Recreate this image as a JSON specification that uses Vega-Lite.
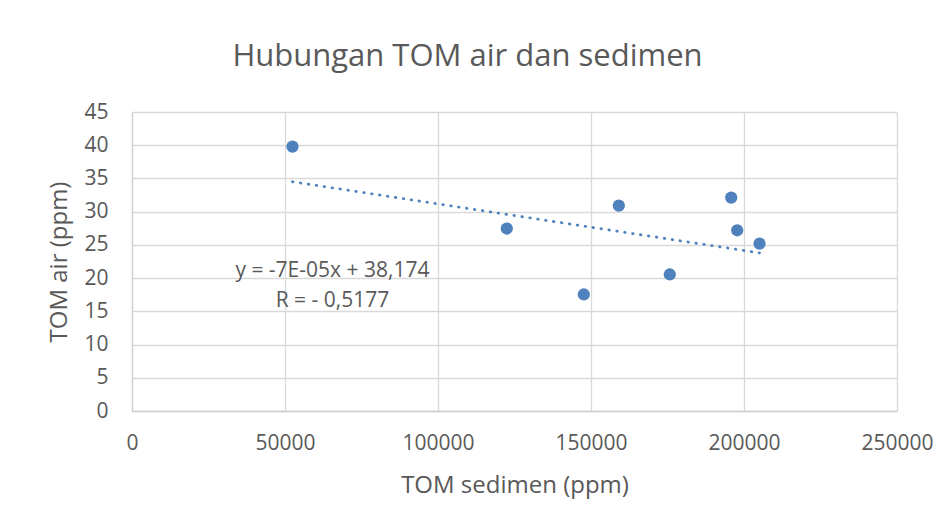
{
  "$schema": "https://vega.github.io/schema/vega-lite/v6.json",
  "autosize": {"type": "none"},
  "width": 765,
  "height": 299,
  "padding": {"left": 132, "top": 112, "right": 55, "bottom": 116},
  "background": "white",
  "config": {
    "font": "Open Sans",
    "view": {"stroke": null},
    "axis": {
      "labelColor": "#595959",
      "titleColor": "#595959",
      "labelFont": "Open Sans",
      "titleFont": "Open Sans",
      "labelFontSize": 21,
      "titleFontSize": 24,
      "titleFontWeight": "normal",
      "gridColor": "#d9d9d9",
      "gridWidth": 1.3,
      "domainColor": "#d0d0d0",
      "domainWidth": 1.3,
      "ticks": false,
      "labelOverlap": false,
      "labelFlush": false
    }
  },
  "title": {
    "text": "Hubungan TOM air dan sedimen",
    "fontSize": 31,
    "font": "Open Sans",
    "fontWeight": "normal",
    "color": "#595959",
    "anchor": "middle",
    "dx": -47,
    "offset": 28
  },
  "datasets": {
    "points": [
      {"sedimen": 52450, "air": 39.8},
      {"sedimen": 122480, "air": 27.46},
      {"sedimen": 147650, "air": 17.54},
      {"sedimen": 159090, "air": 30.92},
      {"sedimen": 175750, "air": 20.55},
      {"sedimen": 195820, "air": 32.12},
      {"sedimen": 197780, "air": 27.2},
      {"sedimen": 205070, "air": 25.2}
    ],
    "trend": [
      {"sedimen": 52450, "air": 34.5},
      {"sedimen": 205070, "air": 23.8}
    ],
    "notes": [
      {"sedimen": 65500, "air": 21.1, "label": "y = -7E-05x + 38,174"},
      {"sedimen": 65500, "air": 16.5, "label": "R = - 0,5177"}
    ]
  },
  "encoding": {
    "x": {"field": "sedimen", "type": "quantitative", "scale": {"domain": [0, 250000], "nice": false},
      "axis": {"title": "TOM sedimen  (ppm)", "values": [0, 50000, 100000, 150000, 200000, 250000], "format": "d", "labelPadding": 21, "titlePadding": 20}},
    "y": {"field": "air", "type": "quantitative", "scale": {"domain": [0, 45], "nice": false},
      "axis": {"title": "TOM air (ppm)", "values": [0, 5, 10, 15, 20, 25, 30, 35, 40, 45], "labelPadding": 24, "titlePadding": 12}}
  },
  "layer": [
    {
      "data": {"name": "trend"},
      "mark": {"type": "line", "color": "#4F81BD", "strokeWidth": 2.8, "strokeCap": "round", "strokeDash": [0.5, 7.5]}
    },
    {
      "data": {"name": "points"},
      "mark": {"type": "point", "filled": true, "color": "#4F81BD", "size": 150, "opacity": 1}
    },
    {
      "data": {"name": "notes"},
      "mark": {"type": "text", "fontSize": 21, "color": "#595959", "font": "Open Sans", "align": "center", "baseline": "middle"},
      "encoding": {
        "text": {"field": "label"}
      }
    }
  ]
}
